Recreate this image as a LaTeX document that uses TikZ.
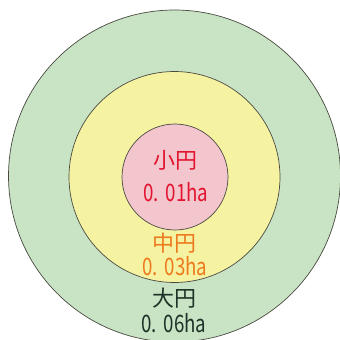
\documentclass[tikz,border=0pt]{standalone}
\usepackage{fontspec}
\newfontfamily\jp{Noto Sans CJK JP}
\definecolor{biggreen}{HTML}{C9E3C5}
\definecolor{midyellow}{HTML}{F5F2A2}
\definecolor{smallpink}{HTML}{F3C5CC}
\definecolor{redtxt}{HTML}{E2142F}
\definecolor{orangetxt}{HTML}{EE7A1E}
\definecolor{darktxt}{HTML}{1E3328}
\definecolor{ringline}{HTML}{4A4A40}
\tikzset{
  ring/.style={draw=ringline, line width=0.7pt},
  lbl/.style={font=\jp\fontsize{22}{22}\selectfont, inner sep=0pt, anchor=center},
  num/.style={font=\jp\fontsize{24}{24}\selectfont, inner sep=0pt, anchor=center, xscale=0.78}
}
\newcommand{\hanum}[2]{#1.\hspace{0.35em}#2}
\begin{document}
\begin{tikzpicture}[x=1pt,y=-1pt]
\useasboundingbox (0,0) rectangle (340,340);
\fill[white] (0,0) rectangle (340,340);
\begin{scope}
\clip (0,0) rectangle (340,340);
\draw[ring, fill=biggreen] (174.5,176) circle (166);
\end{scope}
\draw[ring, fill=midyellow] (174.5,177) circle (105.5);
\draw[ring, fill=smallpink] (175,177) circle (53);
\node[lbl, text=redtxt] (s1) at (175,160) {小円};
\node[num, text=redtxt] (s2) at (176,192.5) {\hanum{0}{01ha}};
\node[lbl, text=orangetxt] (m1) at (174,243) {中円};
\node[num, text=orangetxt] (m2) at (175,266.5) {\hanum{0}{03ha}};
\node[lbl, text=darktxt] (b1) at (174,298) {大円};
\node[num, text=darktxt] (b2) at (174,323) {\hanum{0}{06ha}};
\end{tikzpicture}
\end{document}
